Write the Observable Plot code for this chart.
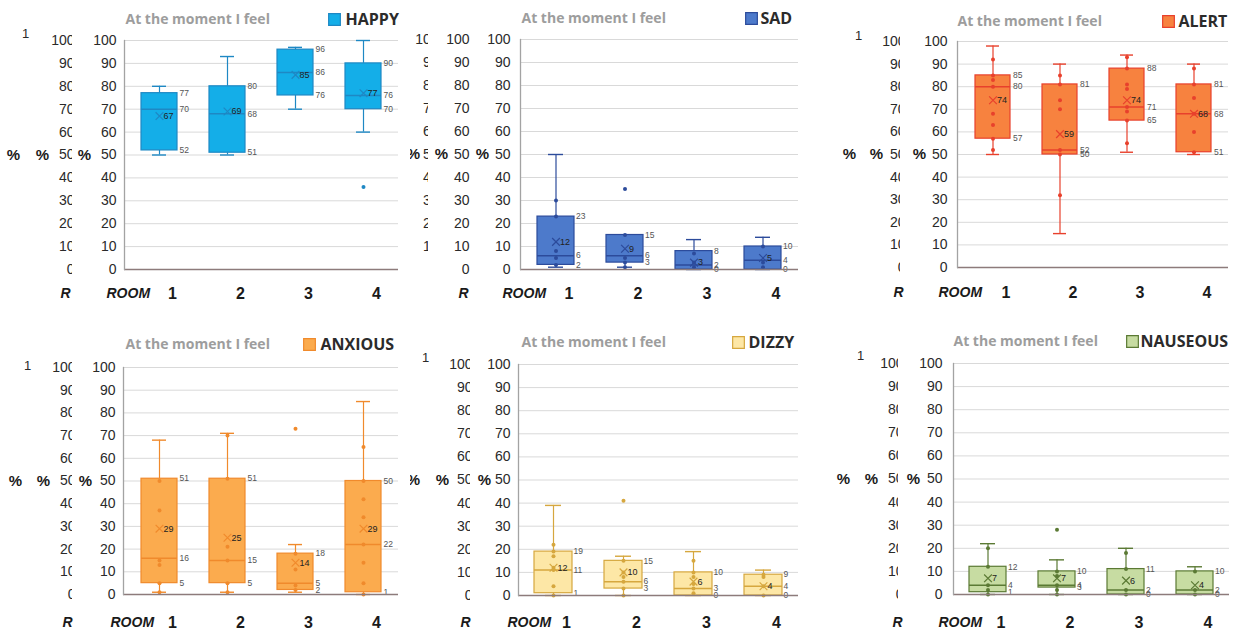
<!DOCTYPE html>
<html><head><meta charset="utf-8">
<script src="https://cdn.jsdelivr.net/npm/d3@7"></script>
<script src="https://cdn.jsdelivr.net/npm/@observablehq/plot@0.6"></script>
<style>
body{margin:0;background:#fff;}
#fig{position:relative;width:1233px;height:631px;overflow:hidden;background:#fff;}
.panel{position:absolute;}
</style></head><body><div id="fig"></div>
<script>
// ---------- data ----------
const emotions = ["HAPPY", "SAD", "ALERT", "ANXIOUS", "DIZZY", "NAUSEOUS"];
const rooms = [1, 2, 3, 4];
const yTicks = [0, 10, 20, 30, 40, 50, 60, 70, 80, 90, 100];
const titleText = "At the moment I feel";
const axisWord = "ROOM";
const unitText = "%";
const ghostTop = "1";

const q1 =          [[52, 51, 76, 70], [2, 3, 0, 0], [57, 50, 65, 51], [5, 5, 2, 1], [1, 3, 0, 0], [1, 3, 0, 0]];
const median =      [[70, 68, 86, 76], [6, 6, 2, 4], [80, 52, 71, 68], [16, 15, 5, 22], [11, 6, 3, 4], [4, 4, 2, 2]];
const q3 =          [[77, 80, 96, 90], [23, 15, 8, 10], [85, 81, 88, 81], [51, 51, 18, 50], [19, 15, 10, 9], [12, 10, 11, 10]];
const mean =        [[67, 69, 85, 77], [12, 9, 3, 5], [74, 59, 74, 68], [29, 25, 14, 29], [12, 10, 6, 4], [7, 7, 6, 4]];
const whiskerLow =  [[50, 50, 70, 60], [1, 1, 0, 0], [50, 15, 51, 50], [1, 1, 1, 0], [0, 0, 0, 0], [0, 0, 0, 0]];
const whiskerHigh = [[80, 93, 97, 100], [50, 15, 13, 14], [98, 90, 94, 90], [68, 71, 22, 85], [39, 17, 19, 11], [22, 15, 20, 12]];
const outliers = [
  [[], [], [], [36]],
  [[], [35], [], []],
  [[], [], [], []],
  [[], [], [73], []],
  [[], [41], [], []],
  [[], [28], [], []]
];
const points = [
  [[], [], [], []],
  [[30, 23, 8, 5, 2], [15, 5, 3, 1], [7, 3, 1], [10, 3, 1]],
  [[92, 85, 83, 80, 68, 63, 57, 52], [85, 81, 74, 70, 52, 50, 32], [93, 88, 81, 79, 71, 69, 65, 55], [88, 81, 75, 68, 60, 51]],
  [[50, 37, 15, 13, 5, 1], [70, 51, 21, 15, 5, 1], [18, 11, 4, 2], [65, 50, 42, 34, 22, 14, 5, 0]],
  [[22, 19, 17, 12, 11, 4, 0], [15, 10, 8, 6, 3, 0], [15, 10, 8, 5, 3, 1], [9, 8, 4, 0]],
  [[20, 12, 4, 2, 0], [10, 8, 4, 2, 0], [18, 11, 2, 0], [10, 2, 0]]
];

// ---------- styles ----------
const fills =   ["#14aee8", "#4d7acb", "#f7823f", "#fbab4e", "#fde7a6", "#c7dca2"];
const strokes = ["#1e88c4", "#2c4b9b", "#e8402c", "#f08a2c", "#d6a73e", "#5b7a34"];

// ---------- layout (page pixels) ----------
const layout = [
  {ox: 0,   oy: 0,   w: 410, h: 310, left: 124, top: 40,  bottom: 269, right: 398, pad: 8,  ghosts: [{pad: 50, clip: 52}], one: {dx: -99, dy: -7}, pct: [-111, -82, -40], r: -59, room: -18, lab: 24, tdx: 1, tdy: -21, sq: -64, lt: -53},
  {ox: 410, oy: 0,   w: 410, h: 310, left: 520, top: 39,  bottom: 269, right: 798, pad: 10, ghosts: [{pad: 51, clip: null}, {pad: 82, clip: 92}], one: null, pct: [-107, -79, -38], r: -57, room: -18, lab: 24, tdx: 1, tdy: -21, sq: -47, lt: -38},
  {ox: 820, oy: 0,   w: 413, h: 310, left: 957, top: 41,  bottom: 267, right: 1228, pad: 10, ghosts: [{pad: 52, clip: 57}], one: {dx: -99, dy: -6}, pct: [-108, -81, -38], r: -59, room: -19, lab: 25, tdx: 0, tdy: -20, sq: -60, lt: -50},
  {ox: 0,   oy: 320, w: 410, h: 311, left: 123, top: 367, bottom: 594, right: 398, pad: 8,  ghosts: [{pad: 48, clip: 51}], one: {dx: -96, dy: -2}, pct: [-108, -80, -38], r: -56, room: -13, lab: 28, tdx: 2, tdy: -23, sq: -89, lt: -78},
  {ox: 410, oy: 320, w: 410, h: 311, left: 518, top: 364, bottom: 595, right: 798, pad: 8,  ghosts: [{pad: 46, clip: 48}], one: {dx: -93, dy: -7}, pct: [-105, -76, -34], r: -53, room: -11, lab: 27, tdx: 3, tdy: -22, sq: -60, lt: -50},
  {ox: 820, oy: 320, w: 413, h: 311, left: 953, top: 363, bottom: 594, right: 1229, pad: 11, ghosts: [{pad: 50, clip: 55}], one: {dx: -93, dy: -8}, pct: [-110, -82, -40], r: -56, room: -15, lab: 28, tdx: 0, tdy: -22, sq: -97, lt: -89}
];

const fig = document.getElementById("fig");
const NS = "http://www.w3.org/2000/svg";

emotions.forEach((emo, i) => {
  const L = layout[i];
  const fill = fills[i], stroke = strokes[i];
  const boxes = rooms.map((room, k) => ({
    room, q1: q1[i][k], median: median[i][k], q3: q3[i][k], mean: mean[i][k],
    lo: whiskerLow[i][k], hi: whiskerHigh[i][k]
  }));
  const pts = rooms.flatMap((room, k) => points[i][k].map(v => ({room, v})));
  const outs = rooms.flatMap((room, k) => outliers[i][k].map(v => ({room, v})));
  const qLabels = boxes.flatMap(b => [b.q3, b.median, b.q1].map(v => ({room: b.room, v})));

  const marks = [
    Plot.gridY(yTicks, {stroke: "#d9d9d9", strokeOpacity: 1}),
    Plot.axisY(yTicks, {anchor: "left", tickSize: 0, tickPadding: L.pad, fontSize: 14, fill: "#2a2a2a", label: null}),
    ...L.ghosts.map(g => Plot.axisY(yTicks, {anchor: "left", tickSize: 0, tickPadding: g.pad, fontSize: 14, fill: "#2a2a2a", label: null})),
    Plot.axisX(rooms, {anchor: "bottom", tickSize: 0, tickPadding: L.lab - 6, dx: 13, fontSize: 16, fontWeight: "bold", fill: "#1a1a1a", label: null}),
    // boxes
    Plot.ruleX(boxes, {x: "room", y1: "hi", y2: "q3", stroke, strokeWidth: 1.2}),
    Plot.ruleX(boxes, {x: "room", y1: "lo", y2: "q1", stroke, strokeWidth: 1.2}),
    Plot.tickY(boxes, {x: "room", y: "hi", stroke, strokeWidth: 1.4, insetLeft: 27, insetRight: 27}),
    Plot.tickY(boxes, {x: "room", y: "lo", stroke, strokeWidth: 1.4, insetLeft: 27, insetRight: 27}),
    Plot.barY(boxes, {x: "room", y1: "q1", y2: "q3", fill, stroke, strokeWidth: 1.2, insetLeft: 16, insetRight: 16}),
    Plot.tickY(boxes, {x: "room", y: "median", stroke, strokeWidth: 1.5, insetLeft: 16, insetRight: 16}),
    Plot.dot(pts, {x: "room", y: "v", r: 2, fill: stroke}),
    Plot.dot(outs, {x: "room", y: "v", r: 2, fill: stroke}),
    Plot.dot(boxes, {x: "room", y: "mean", symbol: "times", r: 3.6, stroke, strokeWidth: 1.2}),
    Plot.text(boxes, {x: "room", y: "mean", text: d => String(d.mean), dx: 4, textAnchor: "start", fontSize: 9, fill: "#222"}),
    Plot.text(qLabels, {x: "room", y: "v", text: d => String(d.v), dx: 20, textAnchor: "start", fontSize: 8.5, fill: "#555"}),
    // axis lines
    Plot.ruleY([0], {stroke: "#8d7b7b", strokeWidth: 1.3}),
    Plot.frame({anchor: "left", stroke: "#a3a3a3", strokeWidth: 1.3}),
    // layered labels
    ...L.pct.map(dx => Plot.text([unitText], {y: 50, frameAnchor: "left", dx, text: d => d, textAnchor: "middle", lineAnchor: "middle", fontWeight: "bold", fontSize: 15, fill: "#1a1a1a"})),
    ...(L.one ? [Plot.text([ghostTop], {y: 100, frameAnchor: "left", dx: L.one.dx, dy: L.one.dy, text: d => d, textAnchor: "middle", lineAnchor: "middle", fontSize: 13, fill: "#2a2a2a"})] : []),
    Plot.text([axisWord[0]], {frameAnchor: "bottom-left", dx: L.r, dy: L.lab, text: d => d, textAnchor: "middle", lineAnchor: "middle", fontStyle: "italic", fontWeight: "bold", fontSize: 14, fill: "#1a1a1a"}),
    Plot.text([axisWord], {frameAnchor: "bottom-left", dx: L.room, dy: L.lab, text: d => d, textAnchor: "start", lineAnchor: "middle", fontStyle: "italic", fontWeight: "bold", fontSize: 14, fill: "#1a1a1a"}),
    Plot.text([titleText], {frameAnchor: "top-left", dx: L.tdx, dy: L.tdy, text: d => d, textAnchor: "start", lineAnchor: "middle", fontWeight: "bold", fontSize: 14, fill: "#9d9d9d", fontFamily: "Open Sans"}),
    Plot.dot([emo], {frameAnchor: "top-right", dx: L.sq, dy: L.tdy, symbol: "square", r: 6.6, fill, stroke, strokeWidth: 1.2}),
    Plot.text([emo], {frameAnchor: "top-right", dx: L.lt, dy: L.tdy, text: d => d, textAnchor: "start", lineAnchor: "middle", fontWeight: "bold", fontSize: 16, fill: "#2b2b2b", fontFamily: "Open Sans"})
  ];

  const svg = Plot.plot({
    width: L.w, height: L.h,
    marginLeft: L.left - L.ox, marginRight: L.ox + L.w - L.right,
    marginTop: L.top - L.oy, marginBottom: L.oy + L.h - L.bottom,
    x: {type: "band", domain: rooms, padding: 0, axis: null},
    y: {domain: [0, 100], axis: null},
    style: {fontFamily: "'Liberation Sans', Arial, sans-serif", overflow: "hidden", background: "white"},
    marks
  });

  // clip the layered (ghost) tick columns like the reference
  const tickGroups = svg.querySelectorAll('g[aria-label="y-axis tick label"]');
  const defs = document.createElementNS(NS, "defs");
  svg.appendChild(defs);
  L.ghosts.forEach((g, j) => {
    const grp = tickGroups[j + 1];
    if (!grp || g.clip == null) return;
    const id = `clip${i}_${j}`;
    const cp = document.createElementNS(NS, "clipPath");
    cp.setAttribute("id", id);
    const rect = document.createElementNS(NS, "rect");
    rect.setAttribute("x", 0); rect.setAttribute("y", 0);
    rect.setAttribute("width", L.left - g.clip - L.ox);
    rect.setAttribute("height", L.h);
    cp.appendChild(rect); defs.appendChild(cp);
    const wrap = document.createElementNS(NS, "g");
    wrap.setAttribute("clip-path", `url(#${id})`);
    grp.parentNode.insertBefore(wrap, grp);
    wrap.appendChild(grp);
  });

  const div = document.createElement("div");
  div.className = "panel";
  div.style.left = L.ox + "px";
  div.style.top = L.oy + "px";
  div.style.width = L.w + "px";
  div.style.height = L.h + "px";
  div.appendChild(svg);
  fig.appendChild(div);
});
</script></body></html>
